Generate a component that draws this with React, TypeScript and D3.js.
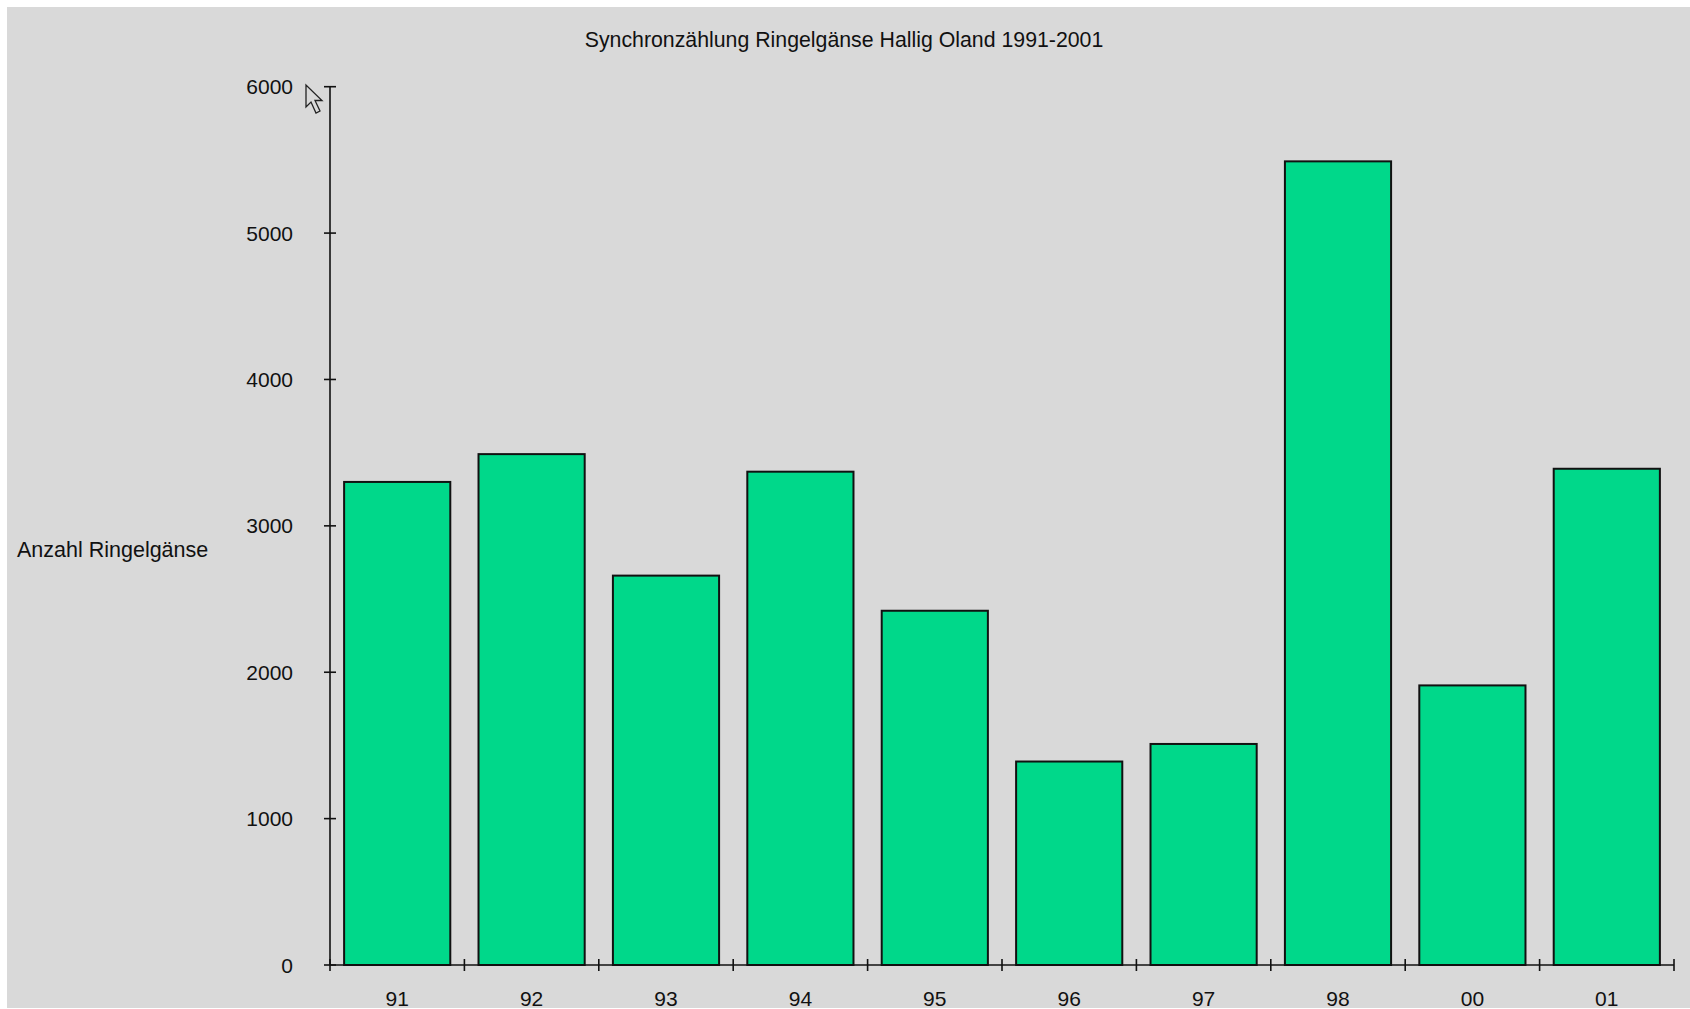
import React from "react";
import * as d3 from "d3";

// Synchronzählung Ringelgänse, Hallig Oland
const years = ["91", "92", "93", "94", "95", "96", "97", "98", "00", "01"];
const counts = [3300, 3490, 2660, 3370, 2420, 1390, 1510, 5490, 1910, 3390];
const yTicks = [0, 1000, 2000, 3000, 4000, 5000, 6000];

const W = 1690;
const H = 1009;
const left = 330;
const right = 1674;
const top = 86.7;
const base = 965;
const font = "'Liberation Sans', Arial, sans-serif";

export default function App() {
  const x = d3
    .scaleBand<string>()
    .domain(years)
    .range([left, right])
    .paddingInner(0.21)
    .paddingOuter(0.105);

  const y = d3.scaleLinear().domain([0, 6000]).range([base, top]);

  const step = x.step();
  // tick marks between the categories, plus both ends
  const xTickPos = d3.range(years.length + 1).map((i) => left + i * step);

  return (
    <svg
      width={W}
      height={H}
      style={{ position: "absolute", left: 0, top: 0 }}
      fontFamily={font}
    >
      <rect x={0} y={0} width={W} height={H} fill="#ffffff" />
      <rect x={7} y={7} width={W - 7} height={H - 8} fill="#d9d9d9" />

      <text x={844} y={47} textAnchor="middle" fontSize={21.3} fill="#111">
        Synchronzählung Ringelgänse Hallig Oland 1991-2001
      </text>

      <text x={17} y={557} fontSize={21.5} fill="#111">
        Anzahl Ringelgänse
      </text>

      {/* bars */}
      {years.map((yr, i) => (
        <rect
          key={yr}
          x={x(yr)}
          y={y(counts[i])}
          width={x.bandwidth()}
          height={base - y(counts[i])}
          fill="#00d88a"
          stroke="#111"
          strokeWidth={2}
        />
      ))}

      {/* y axis */}
      <line x1={left} x2={left} y1={top} y2={base} stroke="#111" strokeWidth={1.6} />
      {yTicks.map((t) => (
        <g key={t}>
          <line
            x1={left - 6}
            x2={left + 6}
            y1={y(t)}
            y2={y(t)}
            stroke="#111"
            strokeWidth={1.6}
          />
          <text
            x={293}
            y={y(t) + 7.5}
            textAnchor="end"
            fontSize={21}
            fill="#111"
          >
            {t}
          </text>
        </g>
      ))}

      {/* x axis */}
      <line x1={left} x2={right} y1={base} y2={base} stroke="#111" strokeWidth={1.6} />
      {xTickPos.map((p, i) => (
        <line
          key={i}
          x1={p}
          x2={p}
          y1={base - 6}
          y2={base + 6}
          stroke="#111"
          strokeWidth={1.6}
        />
      ))}
      {years.map((yr) => (
        <text
          key={yr}
          x={(x(yr) ?? 0) + x.bandwidth() / 2}
          y={1006}
          textAnchor="middle"
          fontSize={21}
          fill="#111"
        >
          {yr}
        </text>
      ))}

      {/* mouse pointer left in the screenshot */}
      <path
        d="M306,85 L306,107 L311,102 L316,113 L320,111 L315,100.5 L322,100.5 Z"
        fill="#d9d9d9"
        stroke="#222"
        strokeWidth={1.3}
      />
    </svg>
  );
}
